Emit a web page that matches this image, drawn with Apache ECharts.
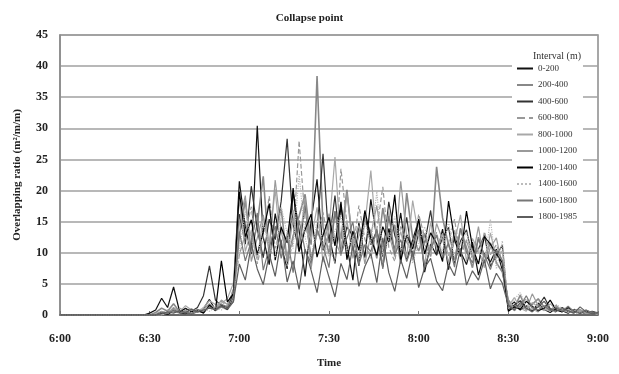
<!DOCTYPE html>
<html>
<head>
<meta charset="utf-8">
<title>Collapse point</title>
<script src="https://cdn.jsdelivr.net/npm/echarts@6/dist/echarts.min.js"></script>
<style>
  html, body { margin: 0; padding: 0; background: #fff; }
  #chart { width: 619px; height: 374px; }
</style>
</head>
<body>
<div id="chart"></div>
<script>
// one value every 2 minutes from 6:00 to 9:00 (91 points)
const s0_200 = [0,0,0,0,0,0,0,0,0,0,0,0,0,
  0,0,0.3,0.8,2.7,1.2,4.5,0.6,0.4,0.2,0.5,1.0,2.5,0.8,1.6,1.2,3.5,
  21.5,14.2,9.8,30.4,12.5,8.1,16.3,11.2,7.4,19.8,13.6,6.2,15.1,21.8,10.4,12.9,8.3,17.5,11.1,5.6,14.8,9.2,18.6,12.3,7.7,13.9,10.5,16.4,8.8,12.1,15.2,6.9,11.4,9.6,13.8,7.3,12.6,10.2,8.1,11.7,6.4,9.9,8.5,10.6,7.2,
  1.2,2.1,0.8,1.5,0.6,1.9,0.9,0.4,1.1,0.7,0.3,0.9,0.5,0.2,0.6,0.3]
const s200_400 = [0,0,0,0,0,0,0,0,0,0,0,0,0,
  0,0,0,0.4,1.1,0.6,1.8,0.5,0.9,0.3,0.6,0.4,1.5,0.7,1.3,0.9,2.2,
  12.8,18.4,10.1,14.6,22.3,9.4,13.2,17.1,8.6,12.7,15.9,19.4,11.3,38.4,14.1,9.8,16.7,12.2,20.1,10.6,8.9,15.3,13.4,9.1,17.2,11.8,14.5,8.2,19.6,12.4,10.3,13.1,9.4,23.8,15.6,11.2,8.7,13.9,10.8,7.6,12.5,9.3,11.6,8.4,6.9,
  2.4,1.1,3.2,0.9,1.7,2.6,1.2,0.8,1.5,0.6,1.1,0.4,0.8,0.3,0.5,0.2]
const s400_600 = [0,0,0,0,0,0,0,0,0,0,0,0,0,
  0,0,0,0,0.5,0.2,1.0,0.3,0.2,0.6,1.2,3.1,7.9,2.4,1.5,0.9,2.8,
  16.2,11.4,20.7,13.8,9.2,15.4,12.1,18.3,28.3,14.6,10.2,17.8,8.7,13.5,25.9,11.6,19.2,9.8,14.2,12.7,7.9,16.1,11.3,13.6,9.4,18.2,12.8,10.1,15.7,8.9,13.2,11.5,16.8,9.7,12.4,14.1,8.3,11.9,13.7,9.2,10.6,12.8,7.8,9.6,11.2,
  0.8,1.6,2.3,1.2,0.7,1.4,2.9,1.0,0.6,1.2,0.5,0.8,0.3,0.6,0.2,0.4]
const s600_800 = [0,0,0,0,0,0,0,0,0,0,0,0,0,
  0,0,0,0,0.2,0.8,0.4,1.1,0.6,0.3,0.8,0.5,1.4,0.9,2.2,1.4,4.2,
  9.6,13.1,17.4,8.2,12.6,19.1,10.7,14.3,7.8,11.9,28.0,15.2,9.4,12.8,16.5,11.1,8.4,23.5,14.7,10.3,17.6,12.2,9.1,13.8,20.6,10.9,8.6,14.4,11.7,9.8,16.2,12.5,10.4,13.3,8.8,11.6,15.4,9.3,12.1,10.5,8.2,13.4,9.7,11.3,8.6,
  1.9,0.7,1.3,2.7,1.0,0.5,1.6,0.9,0.4,1.3,0.7,0.2,0.5,0.8,0.3,0.1]
const s800_1000 = [0,0,0,0,0,0,0,0,0,0,0,0,0,
  0,0,0,0,0,0.4,0.9,0.5,1.5,0.8,0.4,1.2,2.3,1.7,1.9,2.6,5.1,
  18.7,10.2,13.6,8.9,15.8,11.4,20.2,9.6,13.1,16.9,10.8,14.2,12.1,17.3,8.5,13.8,25.4,10.9,15.2,9.1,12.7,14.6,23.2,11.5,8.3,16.7,10.1,13.4,9.2,18.4,12.6,8.1,14.9,10.7,13.1,9.5,11.8,16.1,8.7,12.3,10.4,7.6,13.2,9.1,10.3,
  1.4,2.8,1.1,0.6,2.0,1.3,0.7,1.8,0.9,0.5,1.0,0.4,0.7,0.2,0.4,0.1]
const s1000_1200 = [0,0,0,0,0,0,0,0,0,0,0,0,0,
  0,0,0,0.2,0.6,0.3,1.2,0.4,0.7,1.0,0.5,0.9,1.8,1.1,2.4,1.7,3.9,
  14.9,19.2,8.6,12.4,16.1,10.3,21.7,13.5,9.1,15.6,11.2,18.8,7.4,13.9,10.6,16.3,12.2,9.5,19.7,11.8,14.4,8.2,12.9,17.6,10.5,13.2,9.4,21.5,12.6,8.8,15.1,11.3,9.6,14.7,12.1,8.4,13.6,10.2,11.9,9.1,14.2,8.3,10.8,12.4,7.9,
  2.2,1.0,1.7,0.8,3.4,1.5,0.9,0.6,1.4,0.8,0.4,0.7,0.9,0.3,0.2,0.5]
const s1200_1400 = [0,0,0,0,0,0,0,0,0,0,0,0,0,
  0,0,0,0,0.3,0.1,0.7,0.4,1.1,0.5,0.8,0.3,1.6,0.7,8.7,2.1,3.4,
  19.8,12.6,15.3,9.7,13.4,17.9,8.8,14.1,11.6,20.4,10.2,13.7,16.2,9.3,12.8,15.7,11.1,18.2,8.9,13.5,10.4,16.8,12.3,9.6,14.2,11.7,19.3,8.7,12.9,10.6,15.4,9.8,13.2,11.5,8.6,18.3,12.1,9.4,16.7,10.9,8.2,12.6,11.4,9.8,8.4,
  0.6,1.3,0.9,2.2,1.4,0.7,1.1,2.4,0.8,0.5,1.2,0.6,0.3,0.7,0.4,0.2]
const s1400_1600 = [0,0,0,0,0,0,0,0,0,0,0,0,0,
  0,0,0,0,0,0.3,0.6,0.2,0.9,0.4,0.7,1.1,0.6,1.3,0.8,1.5,2.6,
  10.4,16.7,12.3,8.9,14.8,11.1,9.2,17.4,13.1,10.7,22.6,12.4,8.6,15.3,11.8,9.4,13.6,16.1,10.2,12.7,8.8,14.9,11.4,19.8,9.6,12.2,15.8,10.4,13.1,8.3,11.7,14.2,9.9,12.6,10.3,15.1,8.7,11.4,13.3,9.2,10.6,8.1,15.4,7.4,11.9,
  1.0,2.5,3.6,1.2,0.8,2.1,1.1,0.6,1.7,1.0,0.5,0.9,0.4,0.6,0.3,0.2]
const s1600_1800 = [0,0,0,0,0,0,0,0,0,0,0,0,0,
  0,0,0,0,0.4,0.2,0.8,0.3,0.5,0.2,0.9,0.6,1.3,0.8,1.7,1.3,2.9,
  13.4,8.7,11.9,16.4,7.2,10.8,14.3,9.1,12.6,6.8,15.2,10.4,8.3,13.7,11.2,7.6,16.6,9.8,12.4,14.9,8.1,11.3,10.2,13.8,7.4,15.9,9.7,12.1,8.6,11.4,13.7,7.9,10.6,12.8,9.3,11.6,7.7,13.9,10.1,8.4,12.2,9.6,7.3,10.4,8.8,
  1.7,0.9,1.4,3.1,1.2,0.8,1.5,0.7,1.2,0.6,1.4,0.5,0.3,0.8,0.4,0.2]
const s1800_1985 = [0,0,0,0,0,0,0,0,0,0,0,0,0,
  0,0,0,0,0.2,0.5,0.3,0.7,0.4,0.9,0.5,0.8,1.1,0.9,1.4,1.0,2.1,
  8.2,5.6,11.3,7.4,4.9,9.8,6.2,12.1,5.3,8.7,4.1,10.6,7.2,3.6,9.4,6.1,2.9,8.3,5.7,11.2,4.6,7.8,9.9,5.2,12.4,6.8,3.8,8.9,5.9,10.3,4.4,7.6,9.1,5.4,3.9,8.2,6.3,10.7,4.8,7.1,5.6,8.9,4.2,6.7,5.1,
  1.5,0.8,2.0,1.1,0.5,1.3,2.2,0.9,0.6,1.0,0.7,0.3,1.3,0.5,0.2,0.4]

const intervals = ['0-200', '200-400', '400-600', '600-800', '800-1000', '1000-1200', '1200-1400', '1400-1600', '1600-1800', '1800-1985']
const values = [s0_200, s200_400, s400_600, s600_800, s800_1000, s1000_1200, s1200_1400, s1400_1600, s1600_1800, s1800_1985]

// time categories, 6:00 .. 9:00
const times = []
for (let m = 0; m <= 180; m += 2) {
  let h = 6 + Math.floor(m / 60)
  let mm = m % 60
  times.push(h + ':' + (mm < 10 ? '0' : '') + mm)
}

// grey shades / dash per interval
const lineColors = ['#111111', '#888888', '#333333', '#999999', '#a8a8a8', '#9a9a9a', '#000000', '#bbbbbb', '#777777', '#5e5e5e']
const lineTypes = ['solid', 'solid', 'solid', 'dashed', 'solid', 'solid', 'solid', 'dotted', 'solid', 'solid']
const lineWidths = [1.2, 1.6, 1.2, 1.2, 1.2, 1.2, 1.2, 1.2, 1.2, 1.2]

const serif = 'Liberation Serif, Times New Roman, serif'

let myChart = echarts.init(document.getElementById('chart'))
let option = {
  animation: false,
  title: [
    {
      text: 'Collapse point',
      left: 'center',
      top: 8,
      textStyle: { fontFamily: serif, fontSize: 11, fontWeight: 'bold', color: '#222' }
    },
    {
      text: 'Interval (m)',
      left: 552,
      top: 46,
      textAlign: 'center',
      textStyle: { fontFamily: serif, fontSize: 10, fontWeight: 'normal', color: '#333' }
    }
  ],
  legend: {
    orient: 'vertical',
    left: 512,
    top: 42,
    padding: [22, 6, 6, 4],
    backgroundColor: '#fff',
    itemWidth: 16,
    itemHeight: 10,
    itemGap: 7.5,
    data: intervals,
    itemStyle: { opacity: 0 },
    textStyle: { fontFamily: serif, fontSize: 9, color: '#333' }
  },
  grid: {
    left: 60,
    right: 21,
    top: 35,
    bottom: 58,
    show: true,
    borderColor: '#8a8a8a',
    borderWidth: 1.5
  },
  xAxis: {
    type: 'category',
    boundaryGap: false,
    data: times,
    name: 'Time',
    nameLocation: 'middle',
    nameGap: 43,
    nameTextStyle: { fontFamily: serif, fontSize: 11, fontWeight: 'bold', color: '#222' },
    axisLine: { lineStyle: { color: '#555', width: 1.5 } },
    axisTick: { inside: true, length: 4, interval: 14, lineStyle: { color: '#777' } },
    axisLabel: {
      interval: 14,
      margin: 18,
      fontFamily: serif,
      fontSize: 12,
      fontWeight: 'bold',
      color: '#222'
    },
    splitLine: { show: false }
  },
  yAxis: {
    type: 'value',
    min: 0,
    max: 45,
    interval: 5,
    name: 'Overlapping ratio (m²/m/m)',
    nameLocation: 'middle',
    nameGap: 37,
    nameTextStyle: { fontFamily: serif, fontSize: 11, fontWeight: 'bold', color: '#222' },
    axisLine: { show: true, lineStyle: { color: '#8a8a8a', width: 1.5 } },
    axisTick: { show: false },
    axisLabel: {
      margin: 12,
      fontFamily: serif,
      fontSize: 12,
      fontWeight: 'bold',
      color: '#222'
    },
    splitLine: { lineStyle: { color: '#a0a0a0', width: 1.5 } }
  },
  series: intervals.map((name, i) => ({
    name: name,
    type: 'line',
    data: values[i],
    symbol: 'none',
    lineStyle: { color: lineColors[i], width: lineWidths[i], type: lineTypes[i] },
    itemStyle: { color: lineColors[i] }
  }))
}
myChart.setOption(option)
</script>
</body>
</html>
